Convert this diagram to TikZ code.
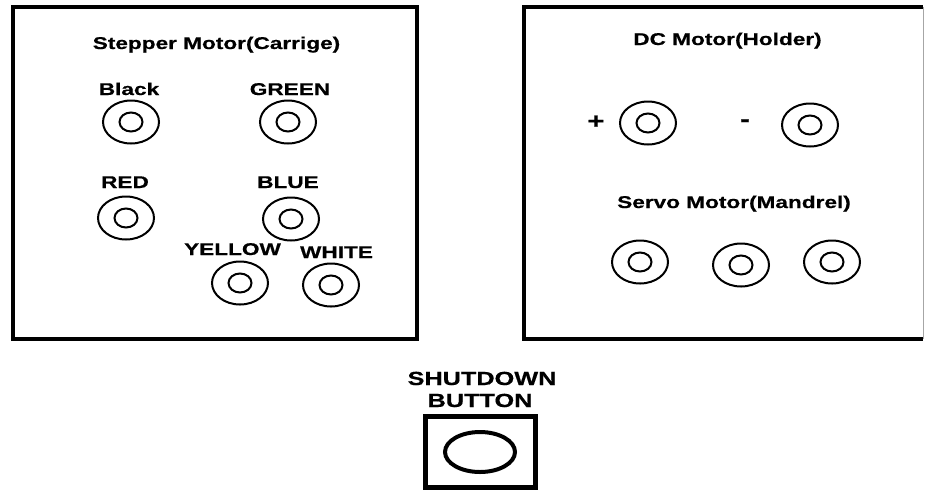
\documentclass[tikz,border=0pt]{standalone}
\usepackage{fontspec}
\newfontfamily\lab[FakeStretch=1.33,FakeBold=0.6]{Liberation Sans Bold}
\usetikzlibrary{shapes.geometric}
\tikzset{
  panel/.style={line width=4pt, line join=miter},
  term/.style={ellipse, draw, line width=2pt, inner sep=0pt,
    minimum width=56pt, minimum height=43pt,
    path picture={\draw[line width=2pt] (path picture bounding box.center) ellipse (11.5pt and 9.5pt);}},
  txt/.style={anchor=base, inner sep=0pt, font=\lab\fontsize{17}{20}\selectfont},
  sign/.style={anchor=center, inner sep=0pt, font=\lab\fontsize{22}{24}\selectfont},
  bigtxt/.style={anchor=base, inner sep=0pt, font=\lab\fontsize{19}{22}\selectfont},
}
\begin{document}
\begin{tikzpicture}[x=1pt,y=-1pt]
\useasboundingbox (0,0) rectangle (925,491);
% panels
\draw[panel] (12.5,7) rectangle (417,339);
\draw[panel] (923,7) -- (523.5,7) -- (523.5,339) -- (923,339);
\draw[gray!70, line width=1pt] (923.5,7) -- (923.5,339);
% stepper
\node[txt] (t1) at (216.5,49) {Stepper Motor(Carrige)};
\node[txt] (lb) at (129,95) {Black};
\node[txt] (lg) at (290,95) {GREEN};
\node[txt] (lr) at (125,188) {RED};
\node[txt] (lu) at (288,188) {BLUE};
\node[txt] (ly) at (232.5,255) {YELLOW};
\node[txt] (lw) at (336.5,258) {WHITE};
\node[term] (cb) at (131,122) {};
\node[term] (cg) at (288,122) {};
\node[term] (cr) at (126,218) {};
\node[term] (cu) at (291,219) {};
\node[term] (cy) at (240,283) {};
\node[term] (cw) at (331,285) {};
% dc / servo
\node[txt] (t2) at (727.5,45) {DC Motor(Holder)};
\node[sign] (lp) at (596,122) {+};
\node[sign] (lm) at (745,123) {-};
\node[term] (cp) at (648,123) {};
\node[term] (cm) at (810,125) {};
\node[txt] (t3) at (734,208) {Servo Motor(Mandrel)};
\node[term] (s1) at (640,262) {};
\node[term] (s2) at (741,265) {};
\node[term] (s3) at (832,262) {};
% shutdown
\node[bigtxt] (sd1) at (482,385) {SHUTDOWN};
\node[bigtxt] (sd2) at (480,407) {BUTTON};
\node[draw, line width=5pt, minimum width=110pt, minimum height=71pt, inner sep=0pt] (sbox) at (480.5,452) {};
\node[ellipse, draw, line width=4pt, minimum width=70pt, minimum height=40pt, inner sep=0pt] (sbtn) at (480,452) {};
\end{tikzpicture}
\end{document}
